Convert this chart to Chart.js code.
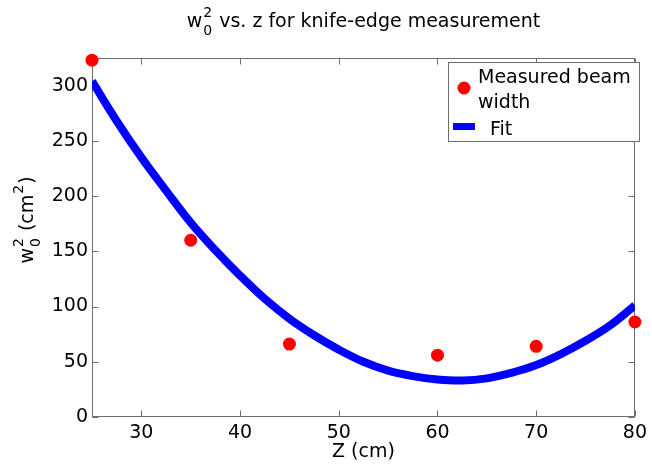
<!DOCTYPE html>
<html>
<head>
<meta charset="utf-8">
<script src="https://cdn.jsdelivr.net/npm/chart.js@4.4.1/dist/chart.umd.min.js"></script>
<style>
  body { margin: 0; background: #fff; }
  #wrap { width: 652px; height: 464px; }
</style>
</head>
<body>
<div id="wrap"><canvas id="knife" width="652" height="464"></canvas></div>
<script>
// measured points
const zMeasured = [25, 35, 45, 60, 70, 80];
const w2Measured = [323, 160, 66, 56, 64, 86];

// fit curve, read every 2.5 cm
const zFit = [25, 27.5, 30, 32.5, 35, 37.5, 40, 42.5, 45, 47.5, 50, 52.5, 55, 57.5, 60, 62.5, 65, 67.5, 70, 72.5, 75, 77.5, 80];
const w2Fit = [304, 268, 235, 205, 176, 151, 128, 107, 89, 74, 61, 50, 42, 37, 34, 33, 35, 40, 47, 57, 69, 83, 101];

const xTicks = [30, 40, 50, 60, 70, 80];
const yTicks = [0, 50, 100, 150, 200, 250, 300];

const FONT = '"DejaVu Sans", sans-serif';
const AXIS = '#6e6e6e';

// draws text like w_0^2 : parts are {t}, or {sub, sup}
function richWidth(ctx, parts, size, small) {
  let w = 0;
  parts.forEach(p => {
    if (p.t) { ctx.font = size + 'px ' + FONT; w += ctx.measureText(p.t).width; }
    else { ctx.font = small + 'px ' + FONT; w += Math.max(ctx.measureText(p.sub || '').width, ctx.measureText(p.sup || '').width) + 2; }
  });
  return w;
}
function drawRich(ctx, parts, x, y, size, small, supOff, subOff) {
  ctx.textBaseline = 'alphabetic';
  ctx.textAlign = 'left';
  parts.forEach(p => {
    if (p.t) {
      ctx.font = size + 'px ' + FONT;
      ctx.fillText(p.t, x, y);
      x += ctx.measureText(p.t).width;
    } else {
      ctx.font = small + 'px ' + FONT;
      let w = 0;
      if (p.sup) { ctx.fillText(p.sup, x + 1, y - supOff); w = Math.max(w, ctx.measureText(p.sup).width); }
      if (p.sub) { ctx.fillText(p.sub, x + 1, y + subOff); w = Math.max(w, ctx.measureText(p.sub).width); }
      x += w + 2;
    }
  });
}

const frame = {
  id: 'frame',
  beforeDatasetsDraw(chart) {
    const { ctx, chartArea: a, scales: { x, y } } = chart;
    ctx.save();
    ctx.strokeStyle = AXIS;
    ctx.lineWidth = 1;
    const L = Math.round(a.left) + 0.5, R = Math.round(a.right) - 0.5;
    const T = Math.round(a.top) + 0.5, B = Math.round(a.bottom) - 0.5;
    ctx.strokeRect(L, T, R - L, B - T);
    ctx.beginPath();
    xTicks.forEach(v => {
      const px = Math.round(x.getPixelForValue(v)) + 0.5;
      ctx.moveTo(px, B); ctx.lineTo(px, B - 6);
      ctx.moveTo(px, T); ctx.lineTo(px, T + 6);
    });
    yTicks.forEach(v => {
      const py = Math.round(y.getPixelForValue(v)) + 0.5;
      ctx.moveTo(L, py); ctx.lineTo(L + 6, py);
      ctx.moveTo(R, py); ctx.lineTo(R - 6, py);
    });
    ctx.stroke();
    ctx.restore();
  },
  afterDraw(chart) {
    const { ctx, chartArea: a } = chart;
    ctx.save();
    ctx.fillStyle = '#000';
    const cx = (a.left + a.right) / 2;

    // title
    const title = [{ t: 'w' }, { sub: '0', sup: '2' }, { t: ' vs. z for knife-edge measurement' }];
    const tw = richWidth(ctx, title, 19, 14);
    drawRich(ctx, title, cx - tw / 2, 27, 19, 14, 10, 8);

    // x label
    ctx.font = '19px ' + FONT;
    ctx.textAlign = 'center';
    ctx.textBaseline = 'alphabetic';
    ctx.fillText('Z (cm)', cx, 457);

    // y label
    const ylab = [{ t: 'w' }, { sub: '0', sup: '2' }, { t: ' (cm' }, { sup: '2' }, { t: ')' }];
    const yw = richWidth(ctx, ylab, 19, 14);
    ctx.save();
    ctx.translate(33, 220);
    ctx.rotate(-Math.PI / 2);
    drawRich(ctx, ylab, -yw / 2, 0, 19, 14, 10, 7);
    ctx.restore();

    // legend
    ctx.fillStyle = '#fff';
    ctx.fillRect(448.5, 62.5, 191, 79);
    ctx.strokeStyle = AXIS;
    ctx.strokeRect(448.5, 62.5, 191, 79);
    ctx.fillStyle = '#ff0000';
    ctx.beginPath();
    ctx.arc(464, 88, 6.5, 0, Math.PI * 2);
    ctx.fill();
    ctx.fillStyle = '#0000ff';
    ctx.fillRect(453, 123, 22, 7);
    ctx.fillStyle = '#000';
    ctx.font = '19px ' + FONT;
    ctx.textAlign = 'left';
    ctx.fillText('Measured beam', 478, 83);
    ctx.fillText('width', 478, 108);
    ctx.fillText('Fit', 490, 135);
    ctx.restore();
  }
};

new Chart(document.getElementById('knife'), {
  type: 'scatter',
  data: {
    datasets: [
      {
        label: 'Measured beam width',
        data: zMeasured.map((z, i) => ({ x: z, y: w2Measured[i] })),
        backgroundColor: '#ff0000',
        borderColor: '#ff0000',
        pointRadius: 6.5,
        borderWidth: 0,
        clip: false,
        order: 0
      },
      {
        label: 'Fit',
        data: zFit.map((z, i) => ({ x: z, y: w2Fit[i] })),
        showLine: true,
        borderColor: '#0000ff',
        borderWidth: 8,
        pointRadius: 0,
        tension: 0.4,
        clip: 0,
        order: 1
      }
    ]
  },
  options: {
    responsive: false,
    animation: false,
    layout: { padding: { top: 58, right: 11, left: 0, bottom: 0 } },
    plugins: { legend: { display: false }, title: { display: false }, tooltip: { enabled: false } },
    scales: {
      x: {
        type: 'linear',
        min: 25,
        max: 80,
        afterBuildTicks: s => { s.ticks = xTicks.map(v => ({ value: v })); },
        afterFit: s => { s.height = 47; },
        grid: { display: false, drawTicks: false, tickLength: 0 },
        border: { display: false },
        ticks: { color: '#000', padding: 5, font: { family: FONT, size: 19 }, maxRotation: 0 }
      },
      y: {
        min: 0,
        max: 325,
        afterBuildTicks: s => { s.ticks = yTicks.map(v => ({ value: v })); },
        afterFit: s => { s.width = 92; },
        grid: { display: false, drawTicks: false, tickLength: 0 },
        border: { display: false },
        ticks: { color: '#000', padding: 4, font: { family: FONT, size: 19 } }
      }
    }
  },
  plugins: [frame]
});
</script>
</body>
</html>
